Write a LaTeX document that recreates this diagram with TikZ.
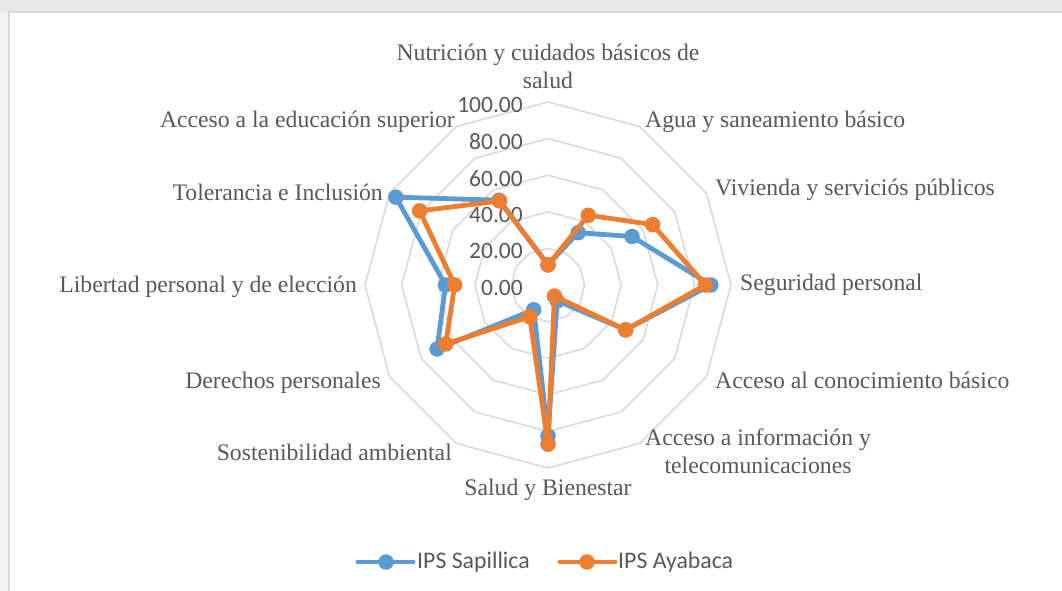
\documentclass[tikz,border=0pt]{standalone}
\usepackage{fontspec}
\setmainfont{Liberation Serif}
\newfontfamily\calib{Carlito}
\definecolor{gridc}{HTML}{D9D9D9}
\definecolor{txt}{HTML}{595959}
\definecolor{sblue}{HTML}{5B9BD5}
\definecolor{sorange}{HTML}{ED7D31}
\definecolor{outerc}{HTML}{E8E8E8}
\tikzset{
  gridline/.style={draw=gridc, line width=1.5pt},
  cat/.style={text=txt, font=\fontsize{23.7}{27.5}\selectfont, inner sep=0pt},
  ticklbl/.style={text=txt, font=\calib\fontsize{23.5}{28}\selectfont, inner sep=0pt, anchor=east},
  legtxt/.style={text=txt, font=\calib\fontsize{23.8}{28}\selectfont, inner sep=0pt, anchor=west},
  series/.style={line width=4.8pt, line join=round, line cap=round},
  dot/.style={circle, inner sep=0pt, minimum size=15.5pt},
}
\begin{document}
\begin{tikzpicture}[x=1pt,y=1pt]
\useasboundingbox (0,0) rectangle (1062,591);
\fill[white] (0,0) rectangle (1062,591);
\fill[outerc] (0,579) rectangle (1062,591);
\fill[outerc!50] (0,0) rectangle (8,579);
\draw[gridline] (9,0) -- (9,579) -- (1062,579);

\begin{scope}[shift={(548,306)}]
  % grid rings
  \foreach \k in {1,...,5}{
    \pgfmathsetmacro\r{36.6*\k}
    \draw[gridline] (90:\r) \foreach \a in {60,30,...,-240}{ -- (\a:\r)} -- cycle;
  }
  % tick labels
  \foreach \k/\t in {0/0.00,1/20.00,2/40.00,3/60.00,4/80.00,5/100.00}{
    \node[ticklbl] (t\k) at (-25,{36.6*\k-3}) {\t};
  }
  % series 1
  \foreach \v [count=\i from 0] in {11,33,53,89,49,10,82.5,15.6,70,56,96,53.5}{
    \coordinate (b\i) at ({90-30*\i}:{1.83*\v});
  }
  \draw[series, sblue] (b0) -- (b1) -- (b2) -- (b3) -- (b4) -- (b5) -- (b6) -- (b7) -- (b8) -- (b9) -- (b10) -- (b11) -- cycle;
  \foreach \i in {0,...,11}{\node[dot, fill=sblue] (mb\i) at (b\i) {};}
  % series 2
  \foreach \v [count=\i from 0] in {11,44,66,86,49,7,87,20,64.5,51,81,53}{
    \coordinate (o\i) at ({90-30*\i}:{1.83*\v});
  }
  \draw[series, sorange] (o0) -- (o1) -- (o2) -- (o3) -- (o4) -- (o5) -- (o6) -- (o7) -- (o8) -- (o9) -- (o10) -- (o11) -- cycle;
  \foreach \i in {0,...,11}{\node[dot, fill=sorange] (mo\i) at (o\i) {};}
\end{scope}

% category labels (y = 591 - pixel y)
\node[cat, align=center] (c0) at (548,524.5) {Nutrición y cuidados básicos de\\salud};
\node[cat, anchor=west] (c1) at (645,469) {Agua y saneamiento básico};
\node[cat, anchor=west] (c2) at (715,401) {Vivienda y serviciós públicos};
\node[cat, anchor=west] (c3) at (740,306) {Seguridad personal};
\node[cat, anchor=west] (c4) at (715,211) {Acceso al conocimiento básico};
\node[cat, align=center] (c5) at (758,139.5) {Acceso a información y\\telecomunicaciones};
\node[cat] (c6) at (548,101) {Salud y Bienestar};
\node[cat, anchor=east] (c7) at (452,139) {Sostenibilidad ambiental};
\node[cat, anchor=east] (c8) at (381,208) {Derechos personales};
\node[cat, anchor=east] (c9) at (357,304) {Libertad personal y de elección};
\node[cat, anchor=east] (c10) at (383,399) {Tolerancia e Inclusión};
\node[cat, anchor=east] (c11) at (455,469) {Acceso a la educación superior};

% legend
\coordinate (l1a) at (358,29); \coordinate (l1b) at (413,29);
\draw[series, sblue] (l1a) -- (l1b);
\node[dot, fill=sblue] (lm1) at (386,29) {};
\node[legtxt] (lt1) at (417,29) {IPS Sapillica};
\coordinate (l2a) at (560,29); \coordinate (l2b) at (615,29);
\draw[series, sorange] (l2a) -- (l2b);
\node[dot, fill=sorange] (lm2) at (587,29) {};
\node[legtxt] (lt2) at (618,29) {IPS Ayabaca};
\end{tikzpicture}
\end{document}
